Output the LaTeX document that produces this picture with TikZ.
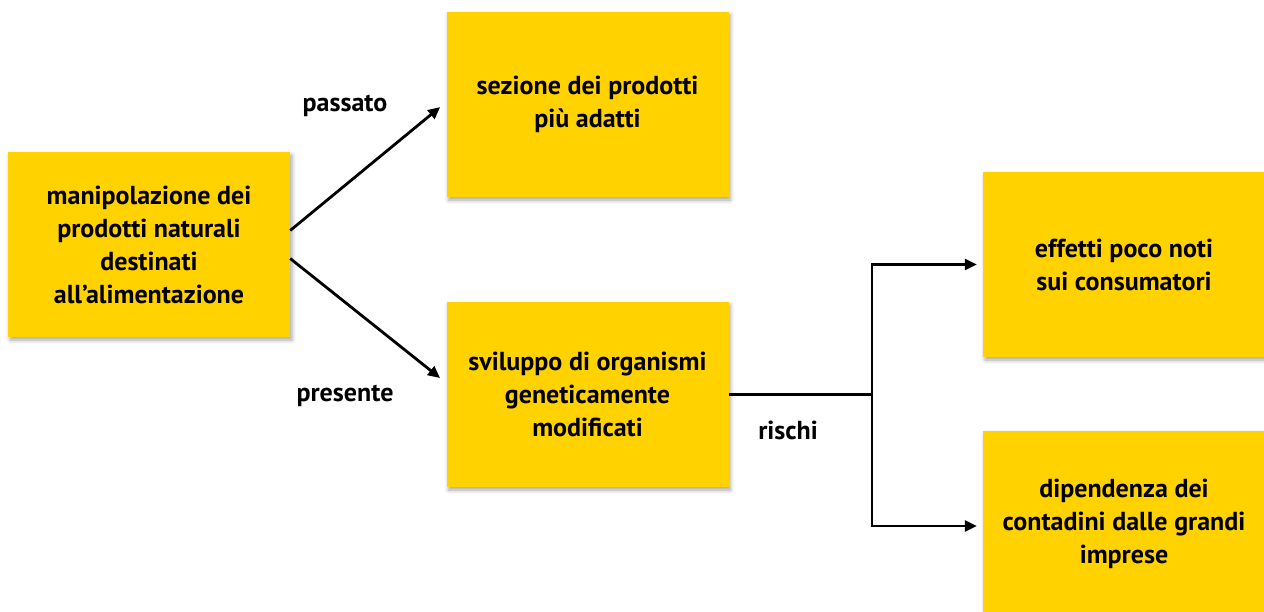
\documentclass[tikz,border=0pt]{standalone}
\usepackage{fontspec}
\setmainfont{PT Sans}
\usetikzlibrary{arrows.meta,shadows.blur}
\definecolor{boxyellow}{HTML}{FFD200}
\tikzset{
  ybox/.style={fill=boxyellow, draw=none, minimum width=282pt, minimum height=185pt,
    align=center, font=\fontsize{26}{33}\selectfont\bfseries, inner sep=0pt,
    blur shadow={shadow xshift=2pt, shadow yshift=-3pt, shadow blur radius=4pt, shadow opacity=35}},
  conn/.style={line width=2.8pt, draw=black},
  arr/.style={conn, -{Triangle[length=12pt,width=11pt]}},
  arrboth/.style={conn, {Triangle[length=12pt,width=11pt]}-{Triangle[length=12pt,width=11pt]}},
  lbl/.style={font=\fontsize{26}{30}\selectfont\bfseries, inner sep=0pt}
}
\begin{document}
\begin{tikzpicture}[x=1pt,y=-1pt]
\useasboundingbox (0,0) rectangle (1264,612);
\node[ybox] (A) at (149,244.5) {manipolazione dei\\prodotti naturali\\destinati\\all’alimentazione};
\node[ybox] (B) at (587.5,104.5) {sezione dei prodotti\\più adatti};
\node[ybox] (C) at (587.5,394.5) {sviluppo di organismi\\geneticamente\\modificati};
\node[ybox] (D) at (1124,264.5) {effetti poco noti\\sui consumatori};
\node[ybox] (E) at (1124,523.5) {dipendenza dei\\contadini dalle grandi\\imprese};

\draw[arr, shorten >=8pt] ([yshift=14pt]A.east) -- ([yshift=2.5pt]B.west);
\draw[arr, shorten >=8pt] ([yshift=-14pt]A.east) -- ([yshift=11.5pt]C.west);

\coordinate (J) at (872,394.5);
\coordinate (Ein) at (E.west |- 0,526);
\draw[conn] (C.east) -- (J);
\draw[arrboth, shorten >=6pt, shorten <=6pt, line join=miter] (D.west) -| (J |- Ein) -- (Ein);

\node[lbl] (p1) at (345,106) {passato};
\node[lbl] (p2) at (345,396) {presente};
\node[lbl] (p3) at (788,430) {rischi};
\end{tikzpicture}
\end{document}
